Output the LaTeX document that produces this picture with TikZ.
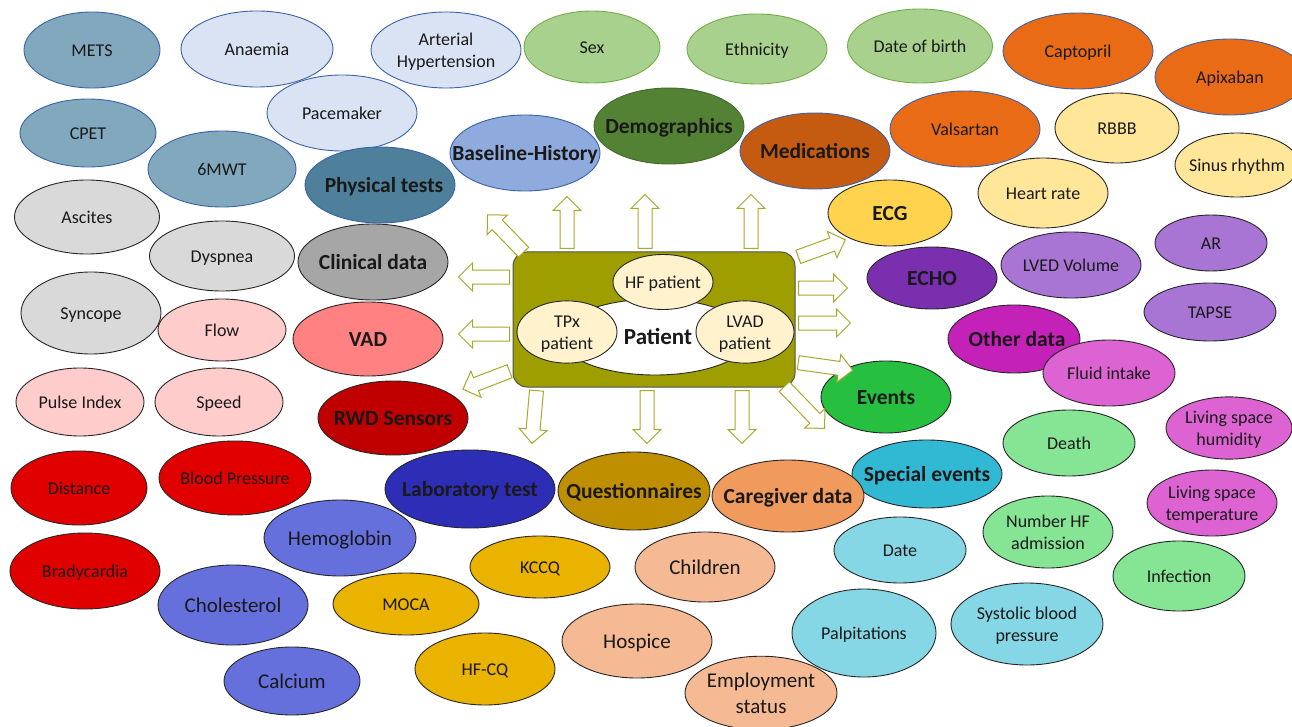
\documentclass[tikz,border=0pt]{standalone}
\usepackage{fontspec}
\setmainfont{Carlito}
\usetikzlibrary{shapes.geometric,shapes.arrows}

\definecolor{edgeblue}{HTML}{3A62A8}
\definecolor{edgegreen}{HTML}{70AD47}
\definecolor{edgedark}{HTML}{262626}
\definecolor{physlight}{HTML}{82A8BE}
\definecolor{physdark}{HTML}{4E7F9B}
\definecolor{histlight}{HTML}{DAE3F3}
\definecolor{histdark}{HTML}{8FAADC}
\definecolor{demolight}{HTML}{A9D18E}
\definecolor{demodark}{HTML}{548235}
\definecolor{medlight}{HTML}{E96B16}
\definecolor{meddark}{HTML}{C55A11}
\definecolor{ecglight}{HTML}{FFE699}
\definecolor{ecgdark}{HTML}{FFD34E}
\definecolor{echolight}{HTML}{A875D5}
\definecolor{echodark}{HTML}{7A30AE}
\definecolor{otherlight}{HTML}{DE63D2}
\definecolor{otherdark}{HTML}{C321B7}
\definecolor{clinlight}{HTML}{D9D9D9}
\definecolor{clindark}{HTML}{A6A6A6}
\definecolor{vadlight}{HTML}{FFCCCC}
\definecolor{vaddark}{HTML}{FF8181}
\definecolor{rwdlight}{HTML}{E00000}
\definecolor{rwddark}{HTML}{C00000}
\definecolor{evlight}{HTML}{85E595}
\definecolor{evdark}{HTML}{26BF3F}
\definecolor{splight}{HTML}{86D7E5}
\definecolor{spdark}{HTML}{31B9D4}
\definecolor{lablight}{HTML}{6670DC}
\definecolor{labdark}{HTML}{2E2DB6}
\definecolor{qlight}{HTML}{EAB300}
\definecolor{qdark}{HTML}{BF8F00}
\definecolor{cglight}{HTML}{F5BA93}
\definecolor{cgdark}{HTML}{F09A5D}
\definecolor{boxolive}{HTML}{9E9E00}
\definecolor{cream}{HTML}{FFF2CC}
\definecolor{arrowolive}{HTML}{A8A82A}

% zero-width text so the ellipse keeps the size asked for
\newcommand\tx[1]{\makebox[0pt]{\raisebox{-2.5pt}[\height][\depth]{\begin{tabular}{@{}c@{}}#1\end{tabular}}}}

\tikzset{
  bub/.style={ellipse, draw=edgedark, line width=0.9pt, inner sep=0pt,
    text=black!90, font=\fontsize{18}{22}\selectfont},
  wh/.style 2 args={minimum width=#1pt, minimum height=#2pt},
  bblue/.style={draw=edgeblue},
  bgreen/.style={draw=edgegreen},
  big/.style={font=\fontsize{21}{26}\selectfont},
  head/.style={font=\fontsize{21.5}{26}\selectfont\bfseries},
  farrow/.style={single arrow, draw=arrowolive, fill=white, line width=1pt,
    inner sep=6.5pt, single arrow head extend=7pt, minimum height=#1pt}
}

\begin{document}
\begin{tikzpicture}[x=1pt,y=-1pt]
\useasboundingbox (0,0) rectangle (1292,727);
% top row
\node[bub,bblue,fill=physlight,wh={136}{76}] (mets) at (92,50) {\tx{METS}};
\node[bub,bblue,fill=histlight,wh={152}{76}] (anaemia) at (257,49) {\tx{Anaemia}};
\node[bub,bblue,fill=histlight,wh={150}{76}] (arthyp) at (446,50) {\tx{Arterial\\Hypertension}};
\node[bub,bgreen,fill=demolight,wh={136}{72}] (sex) at (592,47) {\tx{Sex}};
\node[bub,bgreen,fill=demolight,wh={140}{70}] (ethnic) at (757,49) {\tx{Ethnicity}};
\node[bub,bgreen,fill=demolight,wh={145}{74}] (dob) at (920,46) {\tx{Date of birth}};
\node[bub,bblue,fill=medlight,wh={150}{76}] (captopril) at (1078,51) {\tx{Captopril}};
\node[bub,bblue,fill=medlight,wh={150}{76}] (apixaban) at (1230,77) {\tx{Apixaban}};
% second band
\node[bub,bblue,fill=histlight,wh={150}{76}] (pacemaker) at (342,113) {\tx{Pacemaker}};
\node[bub,bblue,fill=physlight,wh={136}{68}] (cpet) at (88,133) {\tx{CPET}};
\node[bub,bblue,fill=histdark,wh={150}{76},head] (baseline) at (525,153) {\tx{Baseline-History}};
\node[bub,draw=demodark!80!black,fill=demodark,wh={150}{76},head] (demog) at (669,126) {\tx{Demographics}};
\node[bub,bblue,fill=meddark,wh={150}{76},head] (medic) at (815,151) {\tx{Medications}};
\node[bub,bblue,fill=medlight,wh={150}{76}] (valsartan) at (965,129) {\tx{Valsartan}};
\node[bub,fill=ecglight,wh={124}{70}] (rbbb) at (1117,128) {\tx{RBBB}};
\node[bub,fill=ecglight,wh={124}{64}] (sinus) at (1237,165) {\tx{Sinus rhythm}};
\node[bub,fill=ecglight,wh={130}{70}] (hrate) at (1043,193) {\tx{Heart rate}};
\node[bub,bblue,fill=physlight,wh={148}{76}] (sixmwt) at (222,169) {\tx{6MWT}};
\node[bub,bblue,fill=physdark,wh={150}{76},head] (phys) at (380,185) {\tx{\hspace*{8pt}Physical tests}};
\node[bub,fill=ecgdark,wh={124}{66},head] (ecg) at (890,213) {\tx{ECG}};
% middle band
\node[bub,fill=clinlight,wh={145}{74}] (ascites) at (87,217) {\tx{Ascites}};
\node[bub,fill=clinlight,wh={145}{70}] (dyspnea) at (222,256) {\tx{Dyspnea}};
\node[bub,fill=clindark,wh={150}{76},head] (clinical) at (373,262) {\tx{Clinical data}};
\node[bub,fill=echolight,wh={112}{56}] (ar) at (1211,243) {\tx{AR}};
\node[bub,fill=echolight,wh={140}{66}] (lved) at (1071,265) {\tx{LVED Volume}};
\node[bub,fill=echodark,wh={130}{62},head] (echo) at (932,278) {\tx{ECHO}};
\node[bub,fill=echolight,wh={132}{58}] (tapse) at (1210,312) {\tx{TAPSE}};
\node[bub,fill=clinlight,wh={140}{82}] (syncope) at (91,313) {\tx{Syncope}};
\node[bub,fill=vadlight,wh={128}{62}] (flow) at (222,330) {\tx{Flow}};
\node[bub,fill=vaddark,wh={150}{74},head] (vad) at (368,339) {\tx{VAD}};
\node[bub,fill=otherdark,wh={132}{68},head] (other) at (1014,339) {\tx{\hspace*{6pt}Other data}};
\node[bub,fill=otherlight,wh={132}{66}] (fluid) at (1109,373) {\tx{Fluid intake}};
\node[bub,fill=vadlight,wh={128}{68}] (pulse) at (80,402) {\tx{Pulse Index}};
\node[bub,fill=vadlight,wh={128}{68}] (speed) at (219,402) {\tx{Speed}};
\node[bub,fill=rwddark,wh={150}{74},head] (rwd) at (393,418) {\tx{RWD Sensors}};
\node[bub,fill=evdark,wh={130}{72},head] (events) at (886,397) {\tx{Events}};
\node[bub,fill=otherlight,wh={126}{62}] (humid) at (1229,428) {\tx{Living space\\humidity}};
\node[bub,fill=evlight,wh={132}{66}] (death) at (1069,443) {\tx{Death}};
\node[bub,fill=spdark,wh={150}{68},head] (special) at (927,474) {\tx{Special events}};
\node[bub,fill=otherlight,wh={130}{66}] (temp) at (1212,503) {\tx{Living space\\temperature}};
% lower band
\node[bub,fill=rwdlight,wh={136}{74}] (distance) at (79,488) {\tx{Distance}};
\node[bub,fill=rwdlight,wh={152}{74}] (bp) at (235,478) {\tx{Blood Pressure}};
\node[bub,fill=labdark,wh={170}{78},head] (lab) at (470,489) {\tx{Laboratory test}};
\node[bub,fill=qdark,wh={152}{78},head] (quest) at (634,491) {\tx{Questionnaires}};
\node[bub,fill=cgdark,wh={152}{72},head] (caregiver) at (788,496) {\tx{Caregiver data}};
\node[bub,fill=evlight,wh={130}{72}] (nhf) at (1048,532) {\tx{Number HF\\admission}};
\node[bub,fill=splight,wh={132}{66}] (date) at (900,550) {\tx{Date}};
\node[bub,fill=lablight,wh={152}{76},big] (hemo) at (340,538) {\tx{Hemoglobin}};
\node[bub,fill=rwdlight,wh={150}{76}] (brady) at (85,571) {\tx{Bradycardia}};
\node[bub,fill=cglight,wh={140}{70},big] (children) at (705,567) {\tx{Children}};
\node[bub,fill=qlight,wh={140}{62}] (kccq) at (540,567) {\tx{KCCQ}};
\node[bub,fill=evlight,wh={132}{70}] (infection) at (1179,576) {\tx{Infection}};
\node[bub,fill=lablight,wh={150}{80},big] (chol) at (233,605) {\tx{Cholesterol}};
\node[bub,fill=qlight,wh={146}{62}] (moca) at (406,604) {\tx{MOCA}};
\node[bub,fill=splight,wh={152}{82}] (sbp) at (1027,624) {\tx{Systolic blood\\pressure}};
\node[bub,fill=splight,wh={144}{88}] (palp) at (864,633) {\tx{Palpitations}};
\node[bub,fill=cglight,wh={150}{74},big] (hospice) at (637,641) {\tx{Hospice}};
\node[bub,fill=lablight,wh={136}{68},big] (calcium) at (292,681) {\tx{Calcium}};
\node[bub,fill=qlight,wh={140}{72}] (hfcq) at (485,669) {\tx{HF-CQ}};
\node[bub,fill=cglight,wh={152}{72},big] (employ) at (761,693) {\tx{Employment\\status}};
% patient box
\node[draw=edgedark!80,fill=boxolive,line width=1pt,rounded corners=14pt,wh={282}{135}] (ptbox) at (654,319.5) {};
\node[bub,fill=white,wh={190}{76},font=\fontsize{23}{26}\selectfont\bfseries] (patient) at (655,337) {\tx{\hspace*{6pt}Patient}};
\node[bub,fill=cream,wh={100}{55}] (hfpat) at (663,282) {\tx{HF patient}};
\node[bub,fill=cream,wh={100}{57}] (tpx) at (567,332) {\tx{TPx\\patient}};
\node[bub,fill=cream,wh={98}{57}] (lvad) at (745,332) {\tx{LVAD\\patient}};
% arrows out of the box
\node[farrow=52,rotate=90] (a1) at (567,226) {};
\node[farrow=54,rotate=90] (a2) at (645,225) {};
\node[farrow=54,rotate=90] (a3) at (751,225) {};
\node[farrow=52,rotate=134] (a4) at (508,236) {};
\node[farrow=51,rotate=180] (a5) at (487.5,277) {};
\node[farrow=51,rotate=180] (a6) at (487.5,334) {};
\node[farrow=50,rotate=201] (a7) at (489.5,379) {};
\node[farrow=53,rotate=265] (a8) at (534.5,413.5) {};
\node[farrow=53,rotate=270] (a9) at (647,413.5) {};
\node[farrow=53,rotate=270] (a10) at (742,413.5) {};
\node[farrow=58,rotate=-46] (a11) at (802,405) {};
\node[farrow=50,rotate=20] (a12) at (818.5,249.5) {};
\node[farrow=49,rotate=0] (a13) at (819.5,288) {};
\node[farrow=52,rotate=0] (a14) at (821,323) {};
\node[farrow=55,rotate=-8] (a15) at (822,366) {};
\end{tikzpicture}
\end{document}
